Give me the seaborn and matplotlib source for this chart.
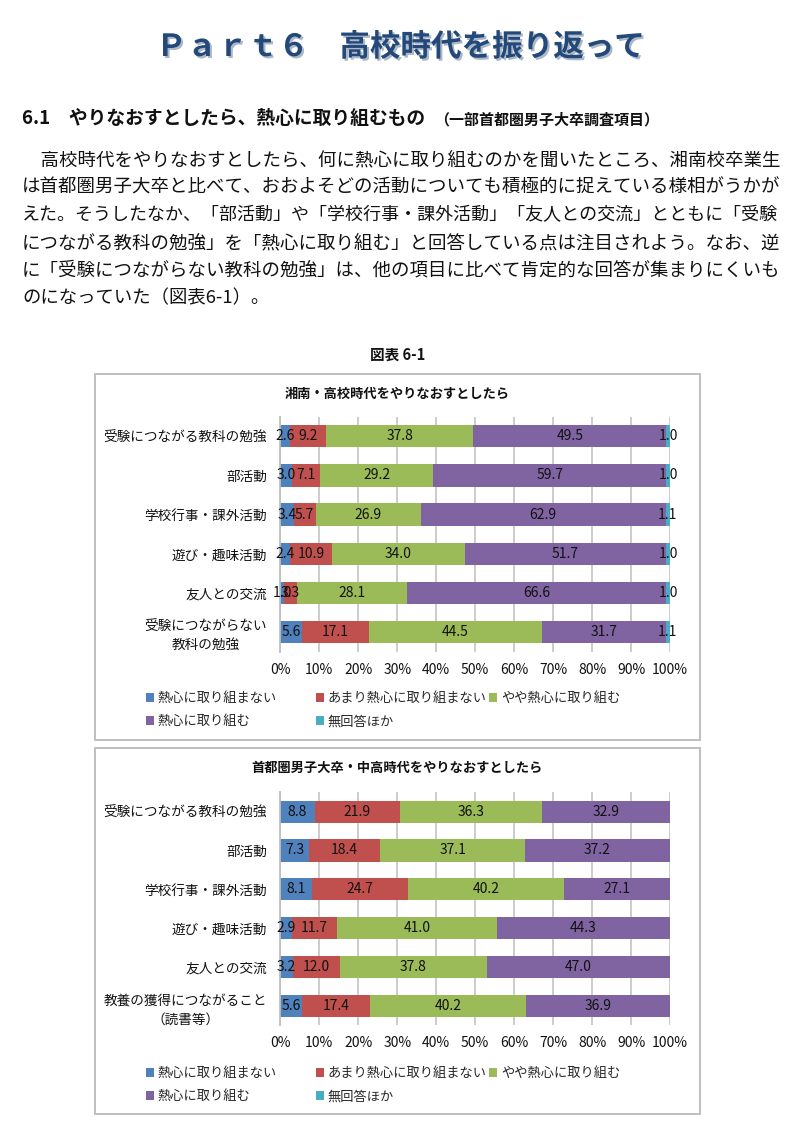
import matplotlib
matplotlib.use("Agg")
import matplotlib.pyplot as plt
import matplotlib.patheffects as pe
from matplotlib.patches import Patch, Rectangle
from matplotlib.legend import Legend
import numpy as np
import pandas as pd
import seaborn as sns

# ---------------- data ----------------
series_names = ["熱心に取り組まない", "あまり熱心に取り組まない", "やや熱心に取り組む",
                "熱心に取り組む", "無回答ほか"]
colors = ["#4F81BD", "#C0504D", "#9BBB59", "#8064A2", "#4BACC6"]

shonan_title = "湘南・高校時代をやりなおすとしたら"
shonan_categories = ["受験につながる教科の勉強", "部活動", "学校行事・課外活動",
                     "遊び・趣味活動", "友人との交流", "受験につながらない\n教科の勉強"]
shonan_not = [2.6, 3.0, 3.4, 2.4, 1.0, 5.6]
shonan_little = [9.2, 7.1, 5.7, 10.9, 3.3, 17.1]
shonan_some = [37.8, 29.2, 26.9, 34.0, 28.1, 44.5]
shonan_very = [49.5, 59.7, 62.9, 51.7, 66.6, 31.7]
shonan_na = [1.0, 1.0, 1.1, 1.0, 1.0, 1.1]

metro_title = "首都圏男子大卒・中高時代をやりなおすとしたら"
metro_categories = ["受験につながる教科の勉強", "部活動", "学校行事・課外活動",
                    "遊び・趣味活動", "友人との交流", "教養の獲得につながること\n（読書等）"]
metro_not = [8.8, 7.3, 8.1, 2.9, 3.2, 5.6]
metro_little = [21.9, 18.4, 24.7, 11.7, 12.0, 17.4]
metro_some = [36.3, 37.1, 40.2, 41.0, 37.8, 40.2]
metro_very = [32.9, 37.2, 27.1, 44.3, 47.0, 36.9]
metro_na = [0.0, 0.0, 0.0, 0.1, 0.0, 0.0]

x_ticks = [0, 10, 20, 30, 40, 50, 60, 70, 80, 90, 100]
x_tick_labels = ["0%", "10%", "20%", "30%", "40%", "50%", "60%", "70%", "80%", "90%", "100%"]

page_title = "Ｐａｒｔ６　高校時代を振り返って"
section_main = "6.1　やりなおすとしたら、熱心に取り組むもの"
section_sub = "（一部首都圏男子大卒調査項目）"
paragraph_lines = [
    "　高校時代をやりなおすとしたら、何に熱心に取り組むのかを聞いたところ、湘南校卒業生",
    "は首都圏男子大卒と比べて、おおよそどの活動についても積極的に捉えている様相がうかが",
    "えた。そうしたなか、「部活動」や「学校行事・課外活動」「友人との交流」とともに「受験",
    "につながる教科の勉強」を「熱心に取り組む」と回答している点は注目されよう。なお、逆",
    "に「受験につながらない教科の勉強」は、他の項目に比べて肯定的な回答が集まりにくいも",
    "のになっていた（図表6-1）。",
]
figure_caption = "図表 6-1"

# ---------------- style ----------------
sns.set_style("white")
plt.rcParams["font.family"] = ["Noto Sans CJK JP", "DejaVu Sans"]

W, H = 803, 1147
fig = plt.figure(figsize=(W / 100, H / 100), dpi=100)
fig.patch.set_facecolor("white")


def fx(x):
    return x / W


def fy(y):
    return 1 - y / H


renderer = fig.canvas.get_renderer()

# ---------------- page text ----------------
fig.text(fx(400), fy(47), page_title, ha="center", va="center", fontsize=22,
         fontweight="bold", color="#23487a",
         path_effects=[pe.SimplePatchShadow(offset=(1.5, -1.5), shadow_rgbFace="#8a9bb0", alpha=0.7),
                       pe.Normal()])

fig.text(fx(22), fy(118), section_main, ha="left", va="center", fontsize=13.5,
         fontweight="bold", color="#111111")
fig.text(fx(434), fy(119), section_sub, ha="left", va="center", fontsize=10.8,
         fontweight="bold", color="#111111")

line_y = [160, 187.5, 215, 243, 270.5, 298]
base_fs = 13.3
sizes = []
texts = []
for i, (line, yy) in enumerate(zip(paragraph_lines, line_y)):
    t = fig.text(fx(22), fy(yy), line, ha="left", va="center", fontsize=base_fs, color="#111111")
    texts.append(t)
for i, t in enumerate(texts[:-1]):
    w = t.get_window_extent(renderer).width
    fs = base_fs * 758 / w
    t.set_fontsize(fs)
    sizes.append(fs)
texts[-1].set_fontsize(float(np.mean(sizes)))

fig.text(fx(398), fy(355), figure_caption, ha="center", va="center", fontsize=10.5,
         fontweight="bold", color="#111111")

# ---------------- chart boxes ----------------
for top, bottom in [(373.7, 740), (748, 1114)]:
    fig.add_artist(Rectangle((fx(95), fy(bottom)), fx(700) - fx(95), fy(top) - fy(bottom),
                             transform=fig.transFigure, fill=False,
                             edgecolor="#BFBFBF", lw=1.4))


def draw_chart(ax, title, title_y, categories, series, show_na_labels, legend_top):
    vals = np.array(series, dtype=float).T
    totals = vals.sum(axis=1)
    pct = vals / totals[:, None] * 100
    cum = np.cumsum(pct, axis=1)
    for k in reversed(range(len(series))):
        df = pd.DataFrame({"cat": categories, "value": cum[:, k]})
        sns.barplot(data=df, x="value", y="cat", orient="h", order=categories,
                    color=colors[k], saturation=1, width=0.57, linewidth=0,
                    errorbar=None, ax=ax, zorder=2)
    for k in range(len(series)):
        if k == len(series) - 1 and not show_na_labels:
            continue
        for i in range(len(categories)):
            if vals[i, k] <= 0:
                continue
            ax.text(cum[i, k] - pct[i, k] / 2, i, f"{vals[i, k]:.1f}", ha="center",
                    va="center", fontsize=10, color="#111111", zorder=5)
    ax.set_xlim(0, 100)
    ax.set_ylim(len(categories) - 0.5, -0.5)
    ax.set_xticks(x_ticks)
    ax.set_xticklabels(x_tick_labels, fontsize=10)
    ax.set_xlabel("")
    ax.set_ylabel("")
    ax.xaxis.grid(True, color="#C8C8C8", lw=1.3)
    ax.yaxis.grid(False)
    ax.set_axisbelow(True)
    for s in ["top", "right", "bottom"]:
        ax.spines[s].set_visible(False)
    ax.spines["left"].set_color("#BFBFBF")
    ax.spines["left"].set_linewidth(1.3)
    ax.tick_params(axis="both", length=0)
    ax.tick_params(axis="x", pad=8)
    ax.tick_params(axis="y", pad=9.5, labelsize=9.8)
    for lbl in ax.get_yticklabels():
        lbl.set_multialignment("center")
        lbl.set_linespacing(1.5)
        lbl.set_color("#111111")
    for lbl in ax.get_xticklabels():
        lbl.set_color("#111111")
    fig.text(fx(397), fy(title_y), title, ha="center", va="center", fontsize=9.5,
             fontweight="bold", color="#111111")
    handles = [Patch(facecolor=c, edgecolor="none") for c in colors]
    groups = [[0, 3], [1, 4], [2]]
    col_x = [146, 316, 489]
    for g, x in zip(groups, col_x):
        leg = Legend(ax, [handles[i] for i in g], [series_names[i] for i in g],
                     loc="upper left", bbox_to_anchor=(fx(x), fy(legend_top)),
                     bbox_transform=fig.transFigure, frameon=False, borderpad=0,
                     borderaxespad=0, handlelength=0.6, handleheight=0.6,
                     handletextpad=0.3, labelspacing=0.78, fontsize=9.5)
        ax.add_artist(leg)


ax1 = fig.add_axes([fx(280.3), fy(651.7), fx(670) - fx(280.3), fy(416.7) - fy(651.7)])
draw_chart(ax1, shonan_title, 394, shonan_categories,
           [shonan_not, shonan_little, shonan_some, shonan_very, shonan_na], True, 692)

ax2 = fig.add_axes([fx(280.3), fy(1025), fx(670) - fx(280.3), fy(792.3) - fy(1025)])
draw_chart(ax2, metro_title, 768, metro_categories,
           [metro_not, metro_little, metro_some, metro_very, metro_na], False, 1067)

fig.savefig("out.png", dpi=100, facecolor="white")
